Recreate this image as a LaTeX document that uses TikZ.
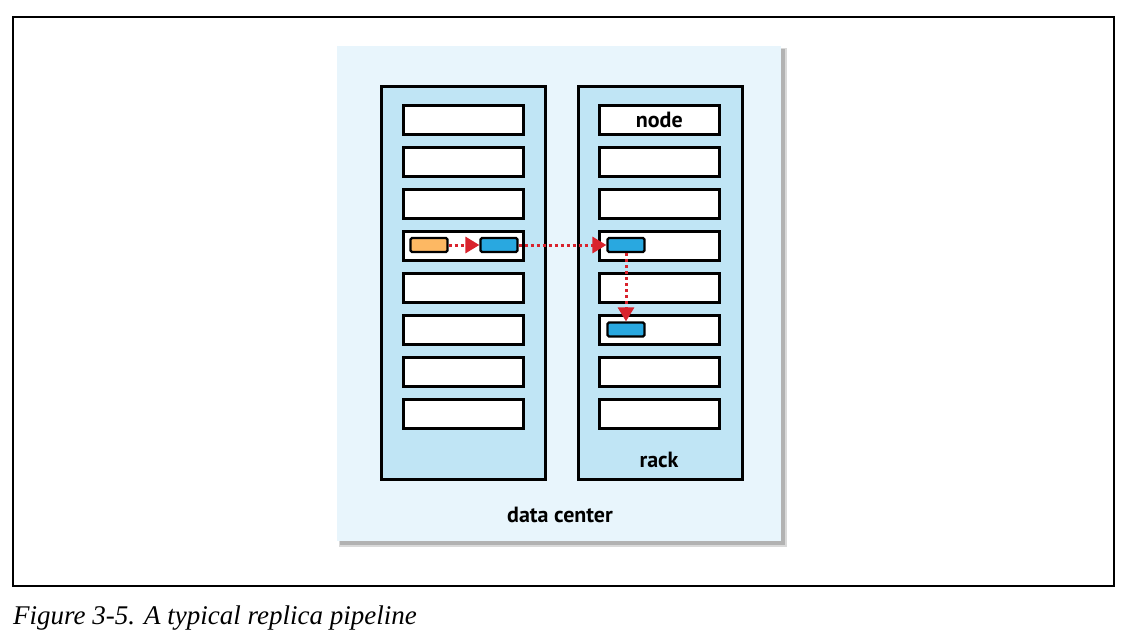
\documentclass[tikz,border=0pt]{standalone}
\usepackage{fontspec}
\setsansfont{PT Sans}
\setmainfont{Liberation Serif}
\usetikzlibrary{arrows.meta}
\definecolor{dcbg}{HTML}{E8F5FC}
\definecolor{rackfill}{HTML}{C0E5F5}
\definecolor{blk}{HTML}{29A8E0}
\definecolor{orng}{HTML}{FDB863}
\definecolor{redarr}{HTML}{D9232D}
\tikzset{
  rackbox/.style={draw=black, line width=2.6pt, fill=rackfill},
  nodebox/.style={draw=black, line width=2.6pt, fill=white, minimum width=120pt, minimum height=29pt, inner sep=0pt, anchor=north west},
  blockbox/.style={draw=black, line width=2.2pt, rounded corners=1.5pt, minimum width=37pt, minimum height=14pt, inner sep=0pt},
  lbl/.style={font=\sffamily\bfseries\fontsize{22}{26}\selectfont, inner sep=0pt},
  pipe/.style={draw=redarr, line width=3pt, dash pattern=on 3pt off 3pt, -{Triangle[length=14pt,width=16pt,fill=redarr]}},
}
\begin{document}
\begin{tikzpicture}[x=1pt,y=-1pt]
\useasboundingbox (0,0) rectangle (1147,638);
\draw[line width=1.3pt] (13,17) rectangle (1114,586);
% data center shadow + box
\fill[black!15] (339,48) rectangle (787,547);
\fill[black!30] (340,49) rectangle (785,545);
\node[draw=none, fill=dcbg, minimum width=444pt, minimum height=495pt, anchor=north west, inner sep=0pt] (dc) at (337,46) {};
\node[lbl] (dclbl) at (560,515) {data center};
% racks
\node[rackbox, minimum width=164pt, minimum height=393pt, anchor=north west, inner sep=0pt] (rackL) at (380,85) {};
\node[rackbox, minimum width=164pt, minimum height=393pt, anchor=north west, inner sep=0pt] (rackR) at (577,85) {};
\node[lbl] (racklbl) at (659,460) {rack};
% node boxes
\foreach \i in {1,...,8}{
  \node[nodebox] (L\i) at (402,{104+42*(\i-1)}) {};
  \node[nodebox] (R\i) at (598,{104+42*(\i-1)}) {};
}
\node[lbl] (nodelbl) at (R1.center) {node};
% blocks
\node[blockbox, fill=orng] (o1) at (429,245) {};
\node[blockbox, fill=blk] (b1) at (499,245) {};
\node[blockbox, fill=blk] (b2) at (626,245) {};
\node[blockbox, fill=blk] (b3) at (626,329.5) {};
% arrows
\draw[pipe] (o1.east) -- (b1.west);
\draw[pipe] (b1.east) -- (b2.west);
\draw[pipe] (b2.south) -- (b3.north);
% caption
\node[anchor=base west, inner sep=0pt, font=\itshape\fontsize{27}{30}\selectfont] (cap) at (13,624) {Figure 3-5. A typical replica pipeline};
\end{tikzpicture}
\end{document}
